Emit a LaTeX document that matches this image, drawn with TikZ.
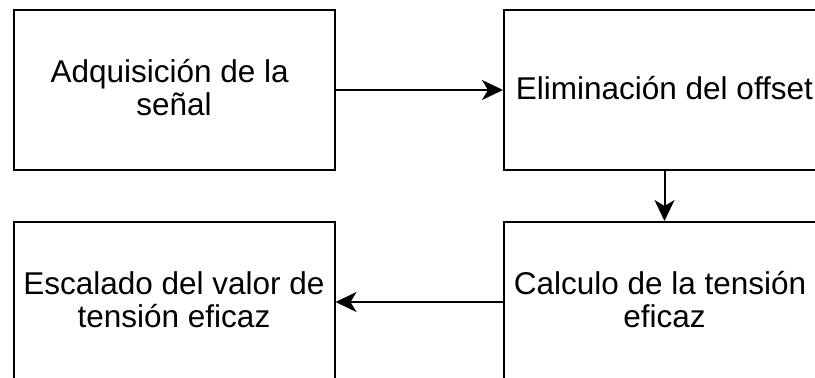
\documentclass[tikz,border=0pt]{standalone}
\usepackage{fontspec}
\setmainfont{Liberation Sans}[Ligatures=NoCommon]
\usetikzlibrary{arrows.meta}
% line strut: fixed height/depth so every text line sits on the same grid
\newcommand{\lnstrut}{\rule[-7.5pt]{0pt}{33pt}}
\tikzset{
  stage/.style={draw=black, line width=2pt, minimum width=321pt, minimum height=160pt,
    inner sep=0pt, align=center, font=\fontsize{31.5}{33}\selectfont},
  flow/.style={draw=black, line width=2pt,
    -{Stealth[length=21pt, width=20pt, inset=6pt]}}
}
\begin{document}
\begin{tikzpicture}[x=1pt, y=-1pt]
  \clip (0,0) rectangle (815,378);
  \node[stage] (acq) at (174,90)
    {\lnstrut Adquisición de la\hspace*{0.28em}\\\lnstrut señal};
  \node[stage] (off) at (664.5,90)
    {\lnstrut Eliminación del offset};
  \node[stage] (rms) at (664.5,302)
    {\lnstrut Calculo de la tensión\hspace*{0.28em}\\\lnstrut eficaz};
  \node[stage] (scl) at (174,302)
    {\lnstrut Escalado del valor de\\\lnstrut tensión eficaz};
  \draw[flow] (acq.east) -- (off.west);
  \draw[flow] (off.south) -- (rms.north);
  \draw[flow] (rms.west) -- (scl.east);
\end{tikzpicture}
\end{document}
